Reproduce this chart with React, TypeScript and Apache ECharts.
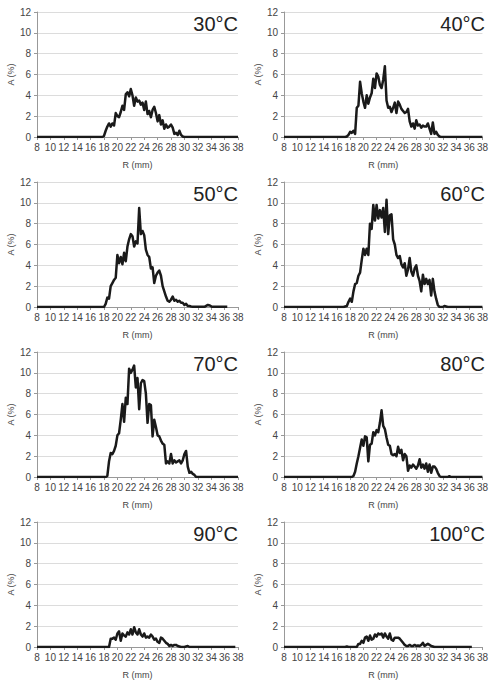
import React, { useEffect, useRef } from "react";
import * as echarts from "echarts";

// Radius grid (mm) on which the measured curves were read, 17 .. 33 step 0.25
const R_GRID = [
  17, 17.25, 17.5, 17.75, 18, 18.25, 18.5, 18.75, 19, 19.25, 19.5, 19.75,
  20, 20.25, 20.5, 20.75, 21, 21.25, 21.5, 21.75, 22, 22.25, 22.5, 22.75,
  23, 23.25, 23.5, 23.75, 24, 24.25, 24.5, 24.75, 25, 25.25, 25.5, 25.75,
  26, 26.25, 26.5, 26.75, 27, 27.25, 27.5, 27.75, 28, 28.25, 28.5, 28.75,
  29, 29.25, 29.5, 29.75, 30, 30.25, 30.5, 30.75, 31, 31.25, 31.5, 31.75,
  32, 32.25, 32.5, 32.75, 33,
];

const PANEL_TITLES = ["30°C", "40°C", "50°C", "60°C", "70°C", "80°C", "90°C", "100°C"];

const A30 = [
  0, 0, 0, 0, 0.1, 0.6, 1.0, 1.3, 1.0, 1.3, 1.1, 2.3,
  2.0, 1.9, 2.4, 3.0, 2.6, 4.1, 4.3, 3.9, 4.6, 4.0, 3.0, 3.8,
  3.4, 3.5, 3.1, 3.3, 2.6, 3.4, 2.2, 2.5, 1.9, 2.6, 2.9, 2.3,
  1.5, 2.1, 1.2, 1.6, 0.8, 1.2, 0.9, 1.0, 1.2, 0.9, 0.3, 0.4,
  0.2, 0.6, 0.2, 0.05, 0, 0, 0, 0, 0, 0, 0, 0,
  0, 0, 0, 0, 0,
];
const A40 = [
  0, 0, 0.05, 0.2, 0.5, 0.4, 0.6, 0.3, 2.8, 3.0, 5.3, 4.2,
  3.4, 2.8, 4.0, 3.2, 3.8, 4.2, 5.6, 4.7, 6.1, 5.8, 5.0, 4.7,
  5.5, 6.8, 3.5, 2.8, 2.9, 2.4, 2.8, 3.3, 2.3, 3.4, 3.1, 2.7,
  2.5, 2.3, 2.4, 2.7, 1.5, 1.0, 1.3, 0.8, 1.6, 1.1, 1.2, 0.9,
  1.1, 1.0, 1.0, 1.3, 0.8, 0.3, 1.4, 0.3, 0.5, 0.2, 0.05, 0,
  0, 0, 0, 0, 0,
];
const A50 = [
  0, 0, 0, 0, 0, 0.3, 0.9, 0.8, 2.0, 2.3, 2.6, 2.8,
  5.0, 4.2, 4.8, 4.1, 5.2, 4.4, 5.8, 6.5, 7.0, 6.8, 5.8, 6.3,
  6.1, 9.5, 7.0, 7.3, 6.9, 5.5, 5.0, 4.8, 3.7, 3.8, 2.3, 3.0,
  3.3, 3.5, 3.0, 2.0, 1.5, 1.0, 0.6, 0.5, 0.7, 1.0, 0.6, 0.7,
  0.5, 0.6, 0.4, 0.4, 0.2, 0.3, 0.1, 0.1, 0.05, 0.02, 0.02, 0.02,
  0.02, 0.02, 0.02, 0.02, 0.02,
];
const A60 = [
  0, 0.05, 0.1, 0.5, 0.8, 0.5, 1.5, 2.2, 2.3, 3.0, 3.3, 4.5,
  5.6, 5.0, 5.6, 5.0, 8.0, 7.5, 9.8, 8.3, 9.8, 8.5, 9.3, 8.6,
  9.5, 7.2, 10.3, 7.0, 8.8, 8.9, 6.5, 6.0, 5.0, 4.7, 4.9, 4.1,
  3.8, 4.2, 3.0, 3.6, 4.7, 3.4, 3.0, 3.7, 4.0, 3.0, 2.5, 1.5,
  3.1, 2.2, 2.7, 2.2, 2.6, 1.1, 2.7, 1.5, 0.8, 0.2, 0, 0,
  0, 0.1, 0.05, 0, 0,
];
const A70 = [
  0, 0, 0, 0, 0, 0, 0.1, 1.5, 2.3, 2.2, 2.5, 3.0,
  4.0, 4.2, 5.5, 7.0, 5.3, 7.6, 7.0, 10.4, 10.0, 10.3, 10.7, 8.6,
  9.5, 6.5, 9.0, 9.3, 9.2, 8.0, 5.2, 7.0, 6.9, 3.9, 5.5, 4.8,
  4.0, 3.9, 3.5, 3.2, 3.1, 1.3, 1.5, 1.3, 2.2, 1.3, 1.6, 1.4,
  1.5, 1.6, 1.3, 1.6, 2.2, 2.5, 1.0, 0.4, 0.5, 0.3, 0.2, 0,
  0, 0, 0, 0, 0,
];
const A80 = [
  0, 0, 0, 0, 0, 0, 0.1, 0.5, 1.3, 2.0, 2.8, 3.6,
  3.0, 3.9, 3.8, 1.5, 3.1, 3.2, 4.3, 4.0, 4.5, 4.3, 5.2, 6.4,
  4.9, 4.6, 3.8, 3.1, 3.0, 2.2, 2.1, 2.2, 2.0, 2.9, 2.3, 2.6,
  1.6, 2.2, 2.0, 0.6, 1.1, 0.9, 1.2, 1.0, 0.8, 1.1, 1.7, 0.9,
  1.2, 0.8, 1.3, 0.5, 1.2, 0.4, 1.0, 1.0, 0.8, 0.4, 0.1, 0,
  0, 0, 0, 0, 0.08,
];
const A90 = [
  0, 0, 0, 0, 0, 0, 0, 0, 0.8, 0.8, 0.9, 0.7,
  1.3, 1.5, 0.6, 1.3, 1.1, 1.0, 1.4, 1.2, 1.7, 1.2, 1.9, 1.4,
  1.2, 1.7, 1.2, 1.0, 1.3, 0.9, 1.0, 0.9, 1.2, 1.0, 0.7, 0.8,
  0.5, 0.4, 0.9, 0.8, 0.6, 0.4, 0.3, 0.1, 0.2, 0.1, 0.2, 0.2,
  0.1, 0.05, 0, 0, 0, 0.05, 0.1, 0, 0, 0, 0, 0,
  0, 0, 0, 0, 0,
];
const A100 = [
  0, 0, 0.05, 0, 0, 0, 0, 0, 0, 0.3, 0.3, 0.6,
  0.4, 0.9, 1.0, 0.6, 1.1, 0.7, 0.8, 1.2, 1.0, 1.3, 1.2, 1.3,
  0.9, 1.3, 1.0, 0.8, 1.3, 0.7, 0.6, 0.9, 0.9, 0.9, 0.8, 0.6,
  0.4, 0.2, 0.1, 0.1, 0.2, 0.1, 0.1, 0.2, 0.1, 0.15, 0.1, 0.2,
  0.4, 0.1, 0.2, 0.3, 0.2, 0.1, 0.05, 0, 0, 0, 0, 0,
  0, 0, 0, 0, 0,
];

const SERIES_VALUES = [A30, A40, A50, A60, A70, A80, A90, A100];

// leading point and trailing points (R, A) of each measured curve
const START_R = [8, 8, 8, 8, 8, 8, 8, 8];
const TAILS: number[][][] = [
  [[38, 0]],
  [[38, 0]],
  [[33.5, 0.2], [33.8, 0.15], [34.1, 0.02], [36.4, 0.02]],
  [[38, 0]],
  [[38, 0]],
  [[33.25, 0], [38, 0]],
  [[37.6, 0]],
  [[36.4, 0]],
];

const X_MIN = 8;
const X_MAX = 38;
const X_STEP = 2;
const Y_MIN = 0;
const Y_MAX = 12;
const Y_STEP = 2;

export default function App() {
  const ref = useRef<HTMLDivElement>(null);

  useEffect(() => {
    if (!ref.current) return;
    const chart = echarts.init(ref.current, undefined, { renderer: "svg" });

    const colLeft = [37, 284];
    const rowTop = [12, 182, 352, 522];
    const plotW = 201;
    const plotH = 125;
    const font = "Liberation Sans, Arial, sans-serif";

    const grids: any[] = [];
    const xAxes: any[] = [];
    const yAxes: any[] = [];
    const series: any[] = [];
    const titles: any[] = [];

    for (let i = 0; i < 8; i++) {
      const col = i % 2;
      const row = Math.floor(i / 2);
      grids.push({ left: colLeft[col], top: rowTop[row], width: plotW, height: plotH });
      xAxes.push({
        type: "value",
        gridIndex: i,
        min: X_MIN,
        max: X_MAX,
        interval: X_STEP,
        name: "R (mm)",
        nameLocation: "middle",
        nameGap: 23,
        nameTextStyle: { fontSize: 9, color: "#444", fontFamily: font },
        axisLine: { show: true, lineStyle: { color: "#999", width: 1 } },
        axisTick: { show: true, length: 3, lineStyle: { color: "#999" } },
        axisLabel: { fontSize: 10, color: "#444", margin: 5, fontFamily: font, showMinLabel: true, showMaxLabel: true, hideOverlap: false },
        splitLine: { show: false },
      });
      yAxes.push({
        type: "value",
        gridIndex: i,
        min: Y_MIN,
        max: Y_MAX,
        interval: Y_STEP,
        name: "A (%)",
        nameLocation: "middle",
        nameGap: 20,
        nameRotate: 90,
        nameTextStyle: { fontSize: 9, color: "#444", fontFamily: font },
        axisLine: { show: true, lineStyle: { color: "#999", width: 1 } },
        axisTick: { show: true, length: 3, lineStyle: { color: "#999" } },
        axisLabel: { fontSize: 10, color: "#444", margin: 6, fontFamily: font },
        splitLine: { show: true, lineStyle: { color: "#dcdcdc", width: 1 } },
      });
      const vals = SERIES_VALUES[i];
      const data: number[][] = [[START_R[i], 0]];
      for (let k = 0; k < R_GRID.length; k++) data.push([R_GRID[k], vals[k]]);
      for (const p of TAILS[i]) data.push(p);
      series.push({
        type: "line",
        xAxisIndex: i,
        yAxisIndex: i,
        data,
        showSymbol: false,
        symbol: "none",
        lineStyle: { color: "#1a1a1a", width: 2.5, join: "round" },
        z: 3,
      });
      titles.push({
        text: PANEL_TITLES[i],
        right: col === 0 ? 491 - (colLeft[0] + plotW) : 491 - (colLeft[1] + plotW),
        top: rowTop[row] + 2,
        padding: 0,
        textStyle: { fontSize: 20, fontWeight: "normal", color: "#222", fontFamily: font },
      });
    }

    chart.setOption({
      animation: false,
      backgroundColor: "#ffffff",
      title: titles,
      grid: grids,
      xAxis: xAxes,
      yAxis: yAxes,
      series,
    });

    return () => chart.dispose();
  }, []);

  return (
    <div
      ref={ref}
      style={{ position: "fixed", left: 0, top: 0, width: 491, height: 682 }}
    />
  );
}
